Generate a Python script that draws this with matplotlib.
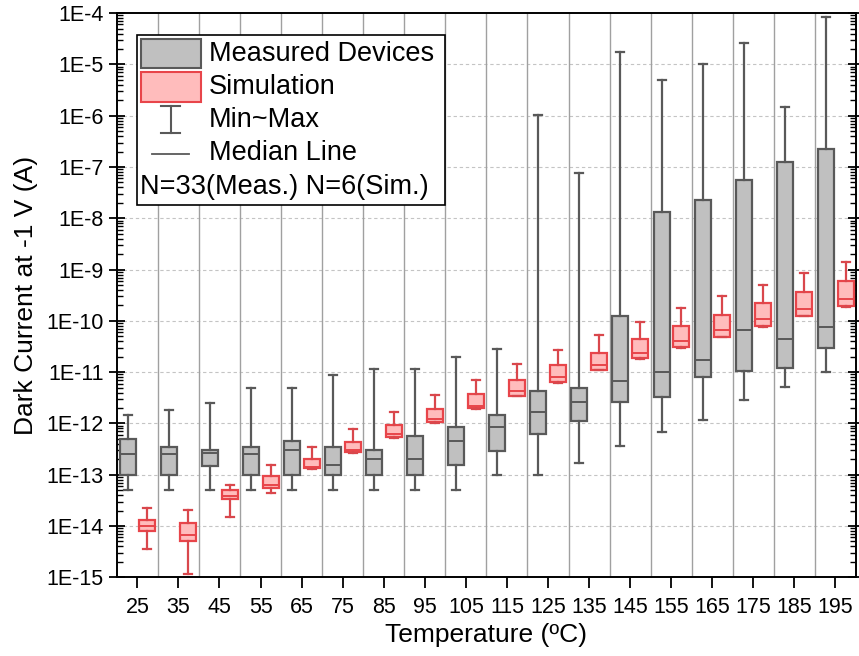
import numpy as np
import matplotlib
matplotlib.use('Agg')
import matplotlib.pyplot as plt
from matplotlib.patches import Rectangle
from matplotlib.lines import Line2D
from matplotlib.ticker import FixedLocator, LogLocator, NullFormatter

plt.rcParams['font.family'] = ['Liberation Sans', 'DejaVu Sans']

temps = [25, 35, 45, 55, 65, 75, 85, 95, 105, 115, 125, 135, 145, 155, 165, 175, 185, 195]

# measured devices (N=33)
meas_min = [5e-14, 5e-14, 5e-14, 5e-14, 5e-14, 5e-14, 5e-14, 5e-14, 5e-14, 1e-13,
            1e-13, 1.7e-13, 3.6e-13, 6.7e-13, 1.15e-12, 2.86e-12, 5.1e-12, 1.0e-11]
meas_q1 = [1e-13, 1e-13, 1.5e-13, 1e-13, 1e-13, 1e-13, 1e-13, 1e-13, 1.52e-13, 2.9e-13,
           6.1e-13, 1.1e-12, 2.6e-12, 3.3e-12, 8.1e-12, 1.07e-11, 1.2e-11, 2.9e-11]
meas_med = [2.5e-13, 2.5e-13, 2.7e-13, 2.5e-13, 3e-13, 1.55e-13, 2e-13, 2e-13, 4.5e-13, 8.5e-13,
            1.67e-12, 2.6e-12, 6.7e-12, 1.0e-11, 1.73e-11, 6.7e-11, 4.5e-11, 7.5e-11]
meas_q3 = [5e-13, 3.5e-13, 3.0e-13, 3.5e-13, 4.5e-13, 3.5e-13, 3e-13, 5.6e-13, 8.5e-13, 1.44e-12,
           4.3e-12, 4.85e-12, 1.26e-10, 1.3e-8, 2.27e-8, 5.5e-8, 1.23e-7, 2.23e-7]
meas_max = [1.45e-12, 1.85e-12, 2.5e-12, 5e-12, 5e-12, 8.7e-12, 1.17e-11, 1.17e-11, 1.98e-11, 2.85e-11,
            1.05e-6, 7.5e-8, 1.77e-5, 4.9e-6, 1.0e-5, 2.6e-5, 1.49e-6, 8.3e-5]

# simulation (N=6)
sim_min = [3.6e-15, 1.16e-15, 1.53e-14, 4.4e-14, 1.3e-13, 2.7e-13, 5.3e-13, 1.03e-12, 1.95e-12, 3.4e-12,
           6.2e-12, 1.08e-11, 1.8e-11, 3.0e-11, 4.8e-11, 7.6e-11, 1.23e-10, 1.9e-10]
sim_q1 = [8e-15, 5.1e-15, 3.29e-14, 5.5e-14, 1.33e-13, 2.76e-13, 5.4e-13, 1.05e-12, 1.97e-12, 3.5e-12,
          6.3e-12, 1.1e-11, 1.85e-11, 3.1e-11, 4.9e-11, 7.8e-11, 1.26e-10, 1.95e-10]
sim_med = [9.8e-15, 6.6e-15, 3.77e-14, 6.3e-14, 1.41e-13, 3.1e-13, 6.2e-13, 1.2e-12, 2.2e-12, 4.2e-12,
           7.9e-12, 1.36e-11, 2.36e-11, 4.0e-11, 6.7e-11, 1.08e-10, 1.7e-10, 2.66e-10]
sim_q3 = [1.31e-14, 1.15e-14, 5.07e-14, 9.4e-14, 2.05e-13, 4.4e-13, 9.4e-13, 1.9e-12, 3.7e-12, 7.1e-12,
          1.36e-11, 2.4e-11, 4.5e-11, 7.8e-11, 1.31e-10, 2.24e-10, 3.65e-10, 5.9e-10]
sim_max = [2.25e-14, 2.06e-14, 6.2e-14, 1.55e-13, 3.4e-13, 7.9e-13, 1.69e-12, 3.54e-12, 7.0e-12, 1.47e-11,
           2.75e-11, 5.2e-11, 9.6e-11, 1.76e-10, 3.1e-10, 5.1e-10, 8.5e-10, 1.38e-9]

decades = list(range(-15, -3))

grey_fill = '#c0c0c0'
grey_edge = '#595959'
red_fill = '#ffbcbc'
red_edge = '#e8454a'


def make_stats(lo, q1, med, q3, hi):
    return [dict(whislo=a, q1=b, med=c, q3=d, whishi=e, fliers=[])
            for a, b, c, d, e in zip(lo, q1, med, q3, hi)]


fig = plt.figure(figsize=(8.59, 6.56), dpi=100)
ax = fig.add_axes([0.136, 0.120, 0.8605, 0.860])
ax.set_yscale('log')

x = np.arange(len(temps))

# group separators and dotted grid
for s in x[:-1] + 0.5:
    ax.axvline(s, color='#a0a0a0', lw=1.0, zorder=1)
for d in decades[1:-1]:
    ax.axhline(10.0 ** d, color='#c4c4c4', lw=0.8, ls=(0, (3, 2.5)), zorder=0.5)

ax.bxp(make_stats(meas_min, meas_q1, meas_med, meas_q3, meas_max), positions=x - 0.235,
       widths=0.39, patch_artist=True, showfliers=False,
       boxprops=dict(facecolor=grey_fill, edgecolor=grey_edge, linewidth=1.6),
       whiskerprops=dict(color=grey_edge, linewidth=1.6),
       capprops=dict(color=grey_edge, linewidth=1.6),
       medianprops=dict(color=grey_edge, linewidth=1.4), zorder=3)
ax.bxp(make_stats(sim_min, sim_q1, sim_med, sim_q3, sim_max), positions=x + 0.245,
       widths=0.39, patch_artist=True, showfliers=False,
       boxprops=dict(facecolor=red_fill, edgecolor=red_edge, linewidth=1.6),
       whiskerprops=dict(color='#d9474c', linewidth=1.6),
       capprops=dict(color='#d9474c', linewidth=1.6),
       medianprops=dict(color=red_edge, linewidth=1.4), zorder=3)

ax.set_xlim(-0.5, len(temps) - 0.5)
ax.set_ylim(1e-15, 1e-4)

ax.set_xticks(x)
ax.set_xticklabels([str(t) for t in temps])
ax.yaxis.set_major_locator(FixedLocator([10.0 ** d for d in decades]))
ax.set_yticklabels(['1E%d' % d for d in decades])
ax.yaxis.set_minor_locator(LogLocator(base=10, subs=np.arange(2, 10), numticks=100))
ax.yaxis.set_minor_formatter(NullFormatter())

ax.tick_params(axis='x', which='major', direction='out', length=8, width=1.3,
               labelsize=15.5, top=False, pad=6)
ax.tick_params(axis='y', which='major', direction='inout', length=12, width=1.3,
               labelsize=15.5, right=True)
ax.tick_params(axis='y', which='minor', direction='in', length=4, width=1.0, right=True)
for sp in ax.spines.values():
    sp.set_linewidth(1.4)

ax.set_xlabel('Temperature (ºC)', fontsize=19, labelpad=4)
ax.set_ylabel('Dark Current at -1 V (A)', fontsize=19, labelpad=6)

# legend drawn by hand
T = ax.transAxes
ax.add_patch(Rectangle((0.027, 0.660), 0.417, 0.301, transform=T, facecolor='white',
                       edgecolor='black', lw=1.2, zorder=10))
ax.add_patch(Rectangle((0.0325, 0.902), 0.081, 0.052, transform=T, facecolor=grey_fill,
                       edgecolor=grey_edge, lw=1.5, zorder=11))
ax.add_patch(Rectangle((0.0325, 0.843), 0.081, 0.053, transform=T, facecolor=red_fill,
                       edgecolor=red_edge, lw=1.5, zorder=11))
ax.add_line(Line2D([0.0727, 0.0727], [0.787, 0.835], transform=T, color=grey_edge, lw=1.5, zorder=11))
ax.add_line(Line2D([0.0598, 0.0856], [0.835, 0.835], transform=T, color=grey_edge, lw=1.5, zorder=11))
ax.add_line(Line2D([0.0598, 0.0856], [0.787, 0.787], transform=T, color=grey_edge, lw=1.5, zorder=11))
ax.add_line(Line2D([0.0474, 0.0974], [0.750, 0.750], transform=T, color=grey_edge, lw=1.3, zorder=11))
labels = ['Measured Devices', 'Simulation', 'Min~Max', 'Median Line']
ys = [0.927, 0.869, 0.810, 0.752]
for lab, yy in zip(labels, ys):
    ax.text(0.1245, yy, lab, transform=T, fontsize=19.5, va='center', ha='left', zorder=12)
ax.text(0.031, 0.692, 'N=33(Meas.) N=6(Sim.)', transform=T, fontsize=19.5, va='center',
        ha='left', zorder=12)

plt.savefig('out.png', dpi=100)
